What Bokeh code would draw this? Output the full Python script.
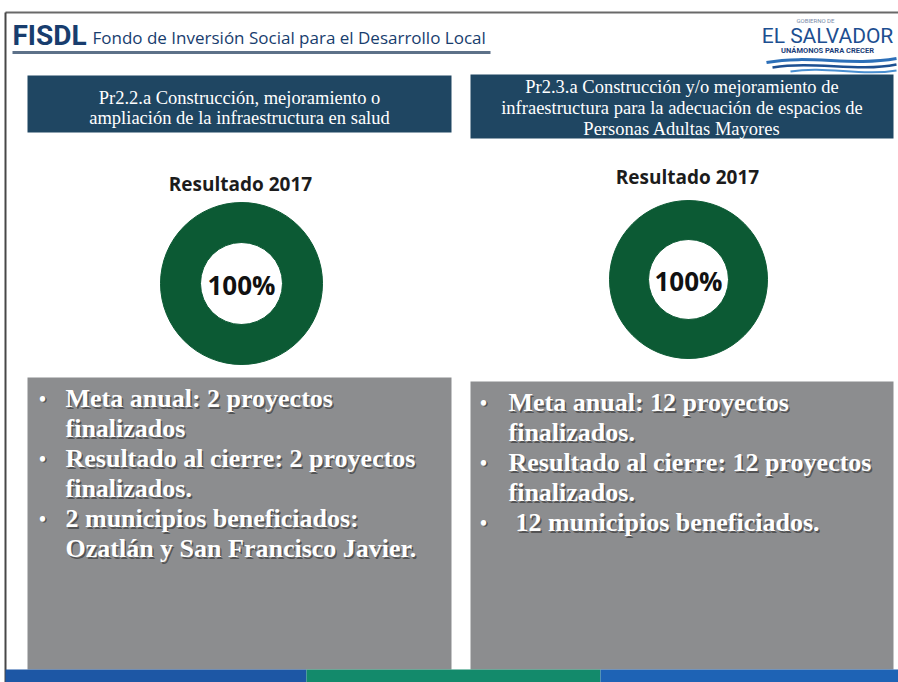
import math
from bokeh.plotting import figure
from bokeh.models import Range1d
from bokeh.core.properties import value
from bokeh.embed import file_html
from bokeh.resources import INLINE

# ---------------- data ----------------
header_brand = "FISDL"
header_name = "Fondo de Inversión Social para el Desarrollo Local"
logo_top = "GOBIERNO DE"
logo_main = "EL SALVADOR"
logo_sub = "UNÁMONOS PARA CRECER"

panel_titles = [
    ["Pr2.2.a Construcción, mejoramiento o",
     "ampliación de la infraestructura en salud"],
    ["Pr2.3.a Construcción y/o mejoramiento de",
     "infraestructura para la adecuación de espacios de",
     "Personas Adultas Mayores"],
]
result_labels = ["Resultado 2017", "Resultado 2017"]
achieved_pct = [100, 100]
bullets_left = [
    ["Meta anual: 2 proyectos", "finalizados"],
    ["Resultado al cierre: 2 proyectos", "finalizados."],
    ["2 municipios beneficiados:", "Ozatlán y San Francisco Javier."],
]
bullets_right = [
    ["Meta anual: 12 proyectos", "finalizados."],
    ["Resultado al cierre: 12 proyectos", "finalizados."],
    ["12 municipios beneficiados."],
]
bullets = [bullets_left, bullets_right]

# ---------------- layout / style ----------------
W, H = 898, 682
NAVY = "#183d6e"
BOX = "#1f4662"
GRAY = "#8c8d8f"
GREEN = "#0c5a34"

p = figure(width=W, height=H, output_backend="svg", toolbar_location=None,
           x_range=Range1d(0, W), y_range=Range1d(H, 0),
           min_border=0)
p.axis.visible = False
p.grid.visible = False
p.outline_line_color = None
p.background_fill_color = "white"
p.border_fill_color = "white"

# scan frame lines
p.segment(x0=[5], y0=[12], x1=[898], y1=[12], line_color="#444444", line_width=2, line_alpha=0.8)
p.segment(x0=[5], y0=[12], x1=[5], y1=[682], line_color="#333333", line_width=2, line_alpha=0.9)

# header
p.text(x=[12], y=[35], text=[header_brand], text_font=value("Roboto"), text_font_style="bold",
       text_font_size="28px", text_color=NAVY, text_baseline="middle")
p.text(x=[92], y=[37], text=[header_name], text_font=value("Open Sans"),
       text_font_size="17px", text_color=NAVY, text_baseline="middle")
p.segment(x0=[12], y0=[52], x1=[490], y1=[52], line_color="#5d7189", line_width=3)

# logo
p.text(x=[815], y=[20], text=[logo_top], text_font=value("Roboto"), text_font_size="6px",
       text_color="#7a8ca8", text_align="center", text_baseline="middle")
p.text(x=[827], y=[35], text=[logo_main], text_font=value("Roboto"), text_font_size="21px",
       text_color="#1d4f91", text_align="center", text_baseline="middle")
p.text(x=[827], y=[50], text=[logo_sub], text_font=value("Roboto"), text_font_style="bold",
       text_font_size="7.5px", text_color="#1d3f7a", text_align="center", text_baseline="middle")
p.bezier(x0=[766, 772, 790], y0=[62, 67, 71], x1=[896, 896, 896], y1=[58, 64, 70],
         cx0=[810, 815, 825], cy0=[54, 60, 65], cx1=[850, 855, 860], cy1=[66, 72, 76],
         line_color=["#2c6fb8", "#1d4f91", "#4a8fd0"], line_width=[3, 2.5, 2])

panel_x0 = [27, 470]
panel_x1 = [451, 893]
title_y0 = [75, 74]
title_y1 = [132, 138]
title_line_y = [[97, 117], [86, 107, 128]]
label_y = [183, 176]
donut_cx = [241, 688]
donut_cy = [283, 279]
r_out = [81, 79]
r_in = [41, 40]
gray_y0 = [377, 381]
gray_y1 = [669, 669]
line_y0 = [398, 402]
line_gap = 30
bullet_x = [42, 483]
text_x = [65, 508]
indent = [[0, 0, 0], [0, 0, 7]]

for i in range(2):
    # title box
    p.quad(left=[panel_x0[i]], right=[panel_x1[i]], top=[title_y0[i]], bottom=[title_y1[i]],
           fill_color=BOX, line_color=None)
    n = len(panel_titles[i])
    p.text(x=[(panel_x0[i] + panel_x1[i]) / 2] * n, y=title_line_y[i], text=panel_titles[i],
           text_font=value("Liberation Serif"), text_font_size="18.5px", text_color="white",
           text_align="center", text_baseline="middle")
    # result label
    p.text(x=[donut_cx[i] - 1], y=[label_y[i]], text=[result_labels[i]], text_font=value("Open Sans"),
           text_font_style="bold", text_font_size="19px", text_color="#1c1c1c",
           text_align="center", text_baseline="middle")
    # donut from achieved percentage
    frac = achieved_pct[i] / 100.0
    start = math.pi / 2
    end = start - 2 * math.pi * frac
    mid = start - math.pi * frac
    p.annular_wedge(x=[donut_cx[i]] * 2, y=[donut_cy[i]] * 2, inner_radius=r_in[i], outer_radius=r_out[i],
                    start_angle=[start, mid], end_angle=[mid, end], direction="anticlock",
                    fill_color=GREEN, line_color=GREEN, line_width=1)
    p.text(x=[donut_cx[i]], y=[donut_cy[i] + 1], text=[f"{achieved_pct[i]}%"], text_font=value("Open Sans"),
           text_font_style="bold", text_font_size="26px", text_color="#111111",
           text_align="center", text_baseline="middle")
    # gray box
    p.quad(left=[panel_x0[i]], right=[panel_x1[i]], top=[gray_y0[i]], bottom=[gray_y1[i]],
           fill_color=GRAY, line_color=None)
    xs, ys, txt, bx, by = [], [], [], [], []
    k = 0
    for j, item in enumerate(bullets[i]):
        bx.append(bullet_x[i]); by.append(line_y0[i] + k * line_gap)
        for ln in item:
            xs.append(text_x[i] + indent[i][j]); ys.append(line_y0[i] + k * line_gap); txt.append(ln)
            k += 1
    for dx, col, alpha in [(1.5, "#3a3a3a", 0.7), (0, "white", 1.0)]:
        p.text(x=xs, y=ys, text=txt, x_offset=dx, y_offset=dx, text_font=value("Liberation Serif"),
               text_font_style="bold", text_font_size="26px", text_color=col, text_alpha=alpha,
               text_baseline="middle")
        p.text(x=bx, y=by, text=["•"] * len(bx), x_offset=dx, y_offset=dx,
               text_font=value("Liberation Serif"), text_font_style="bold", text_font_size="20px",
               text_color=col, text_alpha=alpha, text_align="center", text_baseline="middle")

# bottom strip
p.quad(left=[5, 306, 600], right=[306, 600, 898], top=[669] * 3, bottom=[682] * 3,
       fill_color=["#1d57a5", "#138a6b", "#1e63b5"], line_color=None)

open("out.html", "w").write(file_html(p, INLINE))
